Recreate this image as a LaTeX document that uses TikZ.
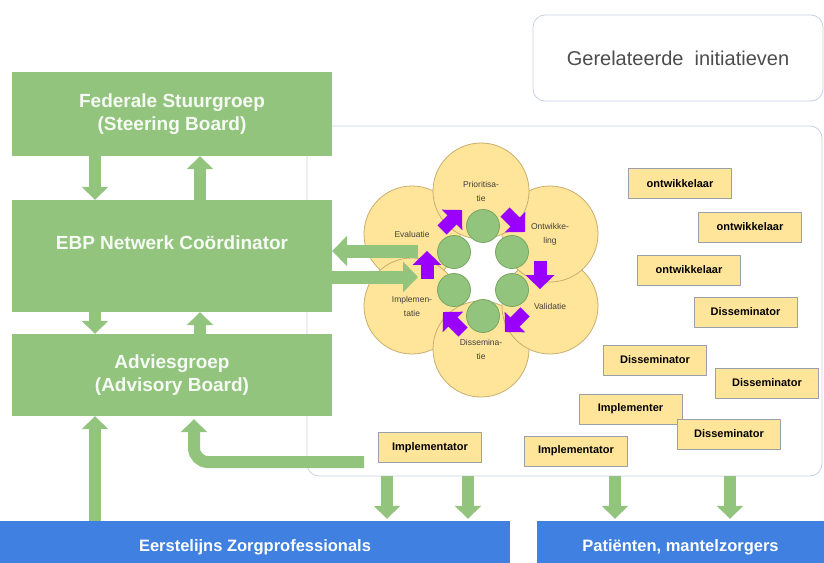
\documentclass[tikz,border=0pt]{standalone}
\usepackage{fontspec}
\setmainfont{Liberation Sans}
\usetikzlibrary{arrows.meta}
\definecolor{boardgreen}{HTML}{93C47D}
\definecolor{groupblue}{HTML}{3F80E0}
\definecolor{petalfill}{HTML}{FFE599}
\definecolor{petalline}{HTML}{C8AE6E}
\definecolor{dotline}{HTML}{76A661}
\definecolor{cyclepurple}{HTML}{9900FF}
\definecolor{frameline}{HTML}{C5D0E3}
\definecolor{roleline}{HTML}{9AA0A8}
\begin{document}
\begin{tikzpicture}[x=1pt, y=-1pt, line join=round,
		board/.style={fill=boardgreen, text=white!92!boardgreen, font=\bfseries\fontsize{19}{23}\selectfont, align=center, minimum width=320pt, inner sep=0pt},
		group/.style={fill=groupblue, text=white, font=\bfseries\fontsize{16.5}{19}\selectfont, minimum height=52pt, inner sep=0pt},
		role/.style={fill=petalfill, draw=roleline, thick, font=\bfseries\fontsize{11}{13}\selectfont, minimum width=103pt, minimum height=30pt, inner sep=0pt},
		petal/.style={circle, fill=petalfill, draw=petalline, thick, minimum size=96pt, inner sep=0pt, font=\fontsize{8.5}{14}\selectfont, text=black!75, align=center},
		dot/.style={circle, fill=boardgreen, draw=dotline, thick, minimum size=33pt, inner sep=0pt},
		garrow/.style={draw=boardgreen, line width=12pt, -{Triangle[width=26pt,length=13pt]}},
		parrow/.style={draw=cyclepurple, line width=13pt, -{Triangle[width=28pt,length=14pt]}}]
	\useasboundingbox (0,0) rectangle (824,562);
	\node[draw=frameline, thick, rounded corners=12pt, minimum width=290pt, minimum height=86pt, text=black!70, font=\fontsize{20}{24}\selectfont] (rel) at (678,58) {Gerelateerde\ \ initiatieven};
	\node[draw=frameline, thick, rounded corners=12pt, minimum width=515pt, minimum height=350pt] (frame) at (564.5,301) {};
	\coordinate (fl) at (481,270);
	\node[petal] (eval) at ([shift={(-69,-36)}]fl) {Evaluatie};
	\node[petal] (impl) at ([shift={(-69,36)}]fl) {Implemen-\\tatie};
	\node[petal] (diss) at ([shift={(0,79)}]fl) {Dissemina-\\tie};
	\node[petal] (vali) at ([shift={(69,36)}]fl) {Validatie};
	\node[petal] (ontw) at ([shift={(69,-36)}]fl) {Ontwikke-\\ling};
	\node[petal] (prio) at ([shift={(0,-79)}]fl) {Prioritisa-\\tie};
	\coordinate (dc) at (483,271);
	\foreach \dx/\dy in {0/-45, 29/-19, 29/19, 0/45, -29/19, -29/-19}
		\node[dot] at ([shift={(\dx,\dy)}]dc) {};
	\node[board, minimum height=84pt] (fed) at (172,114) {Federale Stuurgroep\\(Steering Board)};
	\node[board, minimum height=112pt, text depth=26pt] (ebp) at (172,256) {EBP Netwerk Coördinator};
	\node[board, minimum height=82pt] (adv) at (172,375) {Adviesgroep\\(Advisory Board)};
	\node[group, minimum width=510pt] (eers) at (255,547) {Eerstelijns Zorgprofessionals};
	\node[group, minimum width=287pt] (pat) at (680.5,547) {Patiënten, mantelzorgers};
	\coordinate (ebpin) at (418,251);
	\coordinate (ebpout) at (418,277);
	\draw[garrow, line width=13pt, -{Triangle[width=30pt,length=15pt]}] (ebpin) -- (ebpin -| ebp.east);
	\draw[garrow, line width=13pt, -{Triangle[width=30pt,length=15pt]}] (ebpout -| ebp.east) -- (ebpout);
	\foreach \cx/\cy/\ux/\uy in {452/220/1/-1, 515/222/1/1, 540/275/0/1.41, 515/322/-1/1, 453/322/-1/-1, 427/265/0/-1.41}
		\draw[parrow] (\cx-10*\ux, \cy-10*\uy) -- (\cx+10*\ux, \cy+10*\uy);
	\node[role] (ontw1) at (680,183.5) {ontwikkelaar};
	\node[role] (ontw2) at (750,227) {ontwikkelaar};
	\node[role] (ontw3) at (689,270) {ontwikkelaar};
	\node[role] (diss1) at (745.5,312) {Disseminator};
	\node[role] (diss2) at (655,360) {Disseminator};
	\node[role] (diss3) at (767,383) {Disseminator};
	\node[role] (impl1) at (630.5,409) {Implementer};
	\node[role] (diss4) at (729,434) {Disseminator};
	\node[role] (impl2) at (430,447.5) {Implementator};
	\node[role] (impl3) at (576,451) {Implementator};
	\coordinate (l) at (95,0);
	\coordinate (r) at (200,0);
	\coordinate (m) at (194,0);
	\coordinate (advin) at (364,462);
	\draw[garrow] (l |- fed.south) -- (l |- ebp.north);
	\draw[garrow] (r |- ebp.north) -- (r |- fed.south);
	\draw[garrow] (l |- ebp.south) -- (l |- adv.north);
	\draw[garrow] (r |- adv.north) -- (r |- ebp.south);
	\draw[garrow] (l |- eers.north) -- (l |- adv.south);
	\draw[garrow, rounded corners=14pt] (advin) -| ([yshift=-3pt]m |- adv.south);
	\foreach \x in {387, 468, 615, 730} {
		\coordinate (d) at (\x,0);
		\draw[garrow] (d |- frame.south) -- ([yshift=2pt]d |- eers.north);
	}
\end{tikzpicture}
\end{document}
